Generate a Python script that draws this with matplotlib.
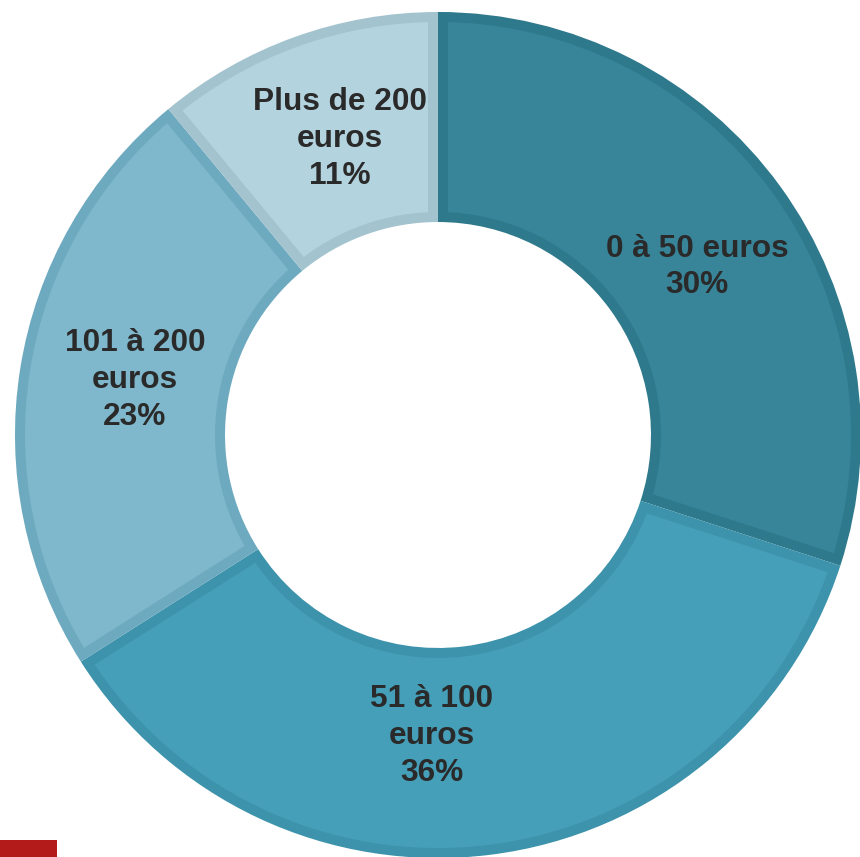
"""Donut chart: breakdown of amounts spent (euros)."""

import matplotlib
matplotlib.use('Agg')
import matplotlib.pyplot as plt
from matplotlib.patches import Wedge, Rectangle


CATEGORIES = ['0 à 50 euros', '51 à 100\neuros', '101 à 200\neuros',
              'Plus de 200\neuros']
SHARES = [30, 36, 23, 11]

FACE_COLORS = ['#38859a', '#469fb8', '#7fb8cc', '#b3d4df']
EDGE_COLORS = ['#2f798c', '#3d93ab', '#6eaabf', '#a3c3ce']

# label centres in pixels (from top-left), one per slice
LABEL_XY = [(697, 267), (432, 736), (135, 380), (340, 139)]

_W, _H = 860, 857
_CENTER = (438, _H - 435)
_RADIUS = 423
_RING = 210


def _main():
    fig = plt.figure(figsize=(_W / 100, _H / 100), dpi=100)
    ax = fig.add_axes([0, 0, 1, 1])

    wedges, _ = ax.pie(
        SHARES, colors=FACE_COLORS, startangle=90, counterclock=False,
        radius=_RADIUS, center=_CENTER, frame=True,
        wedgeprops=dict(width=_RING, edgecolor='white', linewidth=0.8))

    # darker inset border on each slice
    for w, c in zip(wedges, EDGE_COLORS):
        b = Wedge(w.center, w.r, w.theta1, w.theta2, width=w.width,
                  fill=False, edgecolor=c, linewidth=14.4)
        ax.add_patch(b)
        b.set_clip_path(w)

    for name, share, (x, y) in zip(CATEGORIES, SHARES, LABEL_XY):
        ax.text(x, _H - y, '%s\n%d%%' % (name, share), ha='center',
                va='center', multialignment='center', linespacing=1.3,
                fontsize=22.8, fontweight='bold', color='#2a2a2a',
                family='Liberation Sans')

    ax.set_xlim(0, _W)
    ax.set_ylim(0, _H)
    ax.set_aspect('auto')
    ax.axis('off')

    fig.patches.append(Rectangle((0, 0), 57 / _W, 17 / _H,
                                 transform=fig.transFigure,
                                 facecolor='#b31b1b', edgecolor='none'))

    fig.savefig('out.png', dpi=100)


if __name__ == '__main__':
    _main()
